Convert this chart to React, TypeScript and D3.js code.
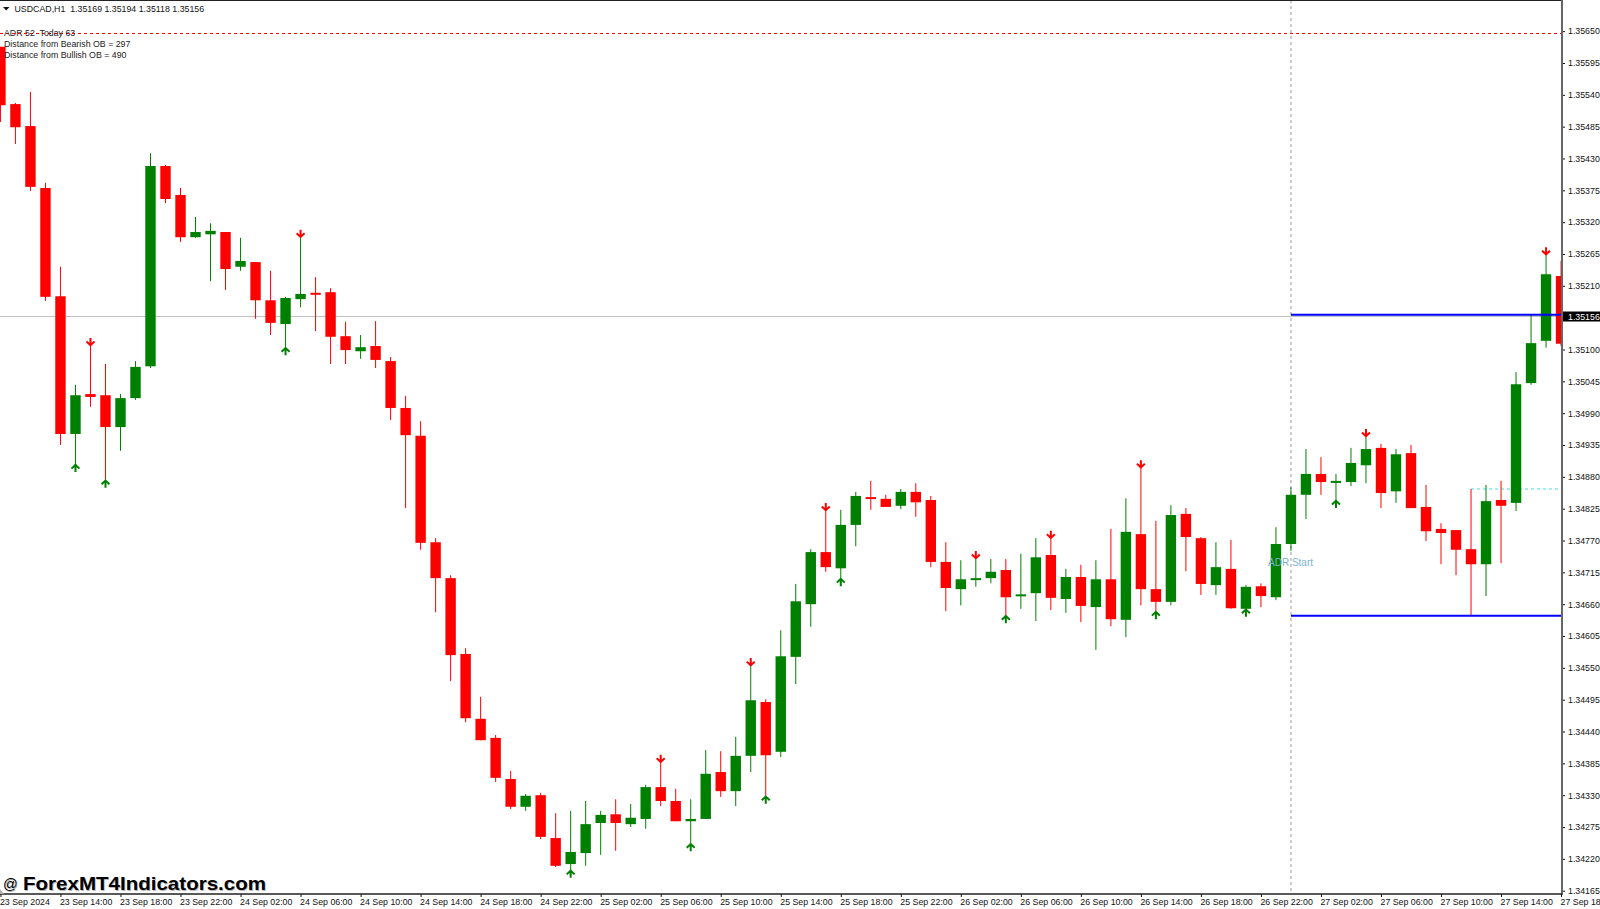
import * as d3 from "d3";
import { useEffect, useRef } from "react";

const opens = [
  1.35623, 1.35524, 1.35486, 1.35379, 1.35192, 1.34954, 1.35023, 1.35021, 1.34966, 1.35016,
  1.35071, 1.35417, 1.35367, 1.35294, 1.35299, 1.35303, 1.35243, 1.35251, 1.35185, 1.35144,
  1.35187, 1.35198, 1.35199, 1.35123, 1.35097, 1.35106, 1.3508, 1.34999, 1.34951, 1.34767,
  1.34705, 1.34574, 1.34462, 1.34429, 1.34358, 1.3431, 1.3433, 1.34256, 1.34211, 1.3423,
  1.34282, 1.34297, 1.3428, 1.34289, 1.34344, 1.3432, 1.34285, 1.34289, 1.3437, 1.34337,
  1.34398, 1.34491, 1.34405, 1.34569, 1.3466, 1.3475, 1.34722, 1.34797, 1.34845, 1.34842,
  1.3483, 1.34854, 1.3484, 1.34733, 1.34686, 1.34702, 1.34705, 1.34719, 1.34674, 1.34679,
  1.34745, 1.34669, 1.34707, 1.34655, 1.34703, 1.34633, 1.34781, 1.34686, 1.34664, 1.34816,
  1.34774, 1.34693, 1.34721, 1.34652, 1.34691, 1.34672, 1.34764, 1.34849, 1.34885, 1.34871,
  1.34871, 1.349, 1.3493, 1.34855, 1.34921, 1.34828, 1.3479, 1.34788, 1.34755, 1.34729,
  1.3484, 1.34835, 1.35042, 1.35115, 1.35227,
];
const highs = [
  1.35623, 1.35526, 1.35545, 1.35388, 1.35243, 1.35039, 1.35106, 1.35075, 1.35023, 1.3508,
  1.35439, 1.35419, 1.35379, 1.35329, 1.35318, 1.35303, 1.35293, 1.35251, 1.35236, 1.35191,
  1.35293, 1.35225, 1.35206, 1.35148, 1.35125, 1.35149, 1.35087, 1.3502, 1.34976, 1.34774,
  1.3471, 1.34584, 1.345, 1.34434, 1.34372, 1.34332, 1.34334, 1.34299, 1.34303, 1.3432,
  1.34303, 1.34323, 1.34315, 1.34348, 1.34386, 1.34341, 1.34323, 1.34408, 1.34406, 1.34431,
  1.34553, 1.34496, 1.34615, 1.34695, 1.34755, 1.34821, 1.34823, 1.34854, 1.34873, 1.34849,
  1.34859, 1.34869, 1.34847, 1.34767, 1.34736, 1.34738, 1.34738, 1.34738, 1.34747, 1.34774,
  1.34773, 1.34721, 1.34728, 1.34736, 1.3479, 1.34843, 1.34895, 1.34804, 1.34831, 1.34826,
  1.34776, 1.34767, 1.34771, 1.34693, 1.34696, 1.34793, 1.34862, 1.34928, 1.34914, 1.34885,
  1.3493, 1.34949, 1.34937, 1.34928, 1.34935, 1.34866, 1.348, 1.34788, 1.34859, 1.34866,
  1.34873, 1.35061, 1.3516, 1.35263, 1.35253,
];
const lows = [
  1.35493, 1.35455, 1.35374, 1.35184, 1.34935, 1.34902, 1.35001, 1.34875, 1.34925, 1.35013,
  1.35068, 1.35353, 1.35286, 1.35293, 1.35218, 1.35203, 1.35236, 1.35153, 1.35125, 1.35104,
  1.35173, 1.35132, 1.35075, 1.35075, 1.35084, 1.35068, 1.34978, 1.34826, 1.34754, 1.34646,
  1.34527, 1.34456, 1.34425, 1.34353, 1.34306, 1.34303, 1.34254, 1.34206, 1.34201, 1.34208,
  1.34227, 1.34234, 1.34275, 1.34272, 1.34311, 1.34285, 1.34247, 1.34289, 1.34327, 1.34311,
  1.3437, 1.34329, 1.34396, 1.34522, 1.34621, 1.34716, 1.34705, 1.3476, 1.34823, 1.34828,
  1.34824, 1.34811, 1.34724, 1.34648, 1.34658, 1.3469, 1.34696, 1.34641, 1.34652, 1.34631,
  1.3465, 1.34645, 1.34629, 1.34581, 1.34622, 1.34603, 1.34658, 1.34648, 1.34658, 1.34717,
  1.34676, 1.34676, 1.34652, 1.34652, 1.34655, 1.34667, 1.34752, 1.34807, 1.34849, 1.3484,
  1.34864, 1.34869, 1.34826, 1.34835, 1.34826, 1.34769, 1.34729, 1.3471, 1.3464, 1.34674,
  1.34731, 1.34821, 1.35039, 1.35103, 1.35106,
];
const closes = [
  1.35522, 1.35484, 1.35381, 1.35191, 1.34954, 1.35021, 1.35018, 1.34966, 1.35016, 1.3507,
  1.35417, 1.3536, 1.35294, 1.35303, 1.35305, 1.35239, 1.35253, 1.35185, 1.35146, 1.35189,
  1.35196, 1.35195, 1.35122, 1.35099, 1.35104, 1.35082, 1.34999, 1.34952, 1.34766, 1.34705,
  1.34572, 1.34463, 1.34425, 1.3436, 1.3431, 1.34329, 1.34258, 1.34208, 1.34232, 1.3428,
  1.34296, 1.34282, 1.34291, 1.34344, 1.3432, 1.34285, 1.34289, 1.34367, 1.34337, 1.34398,
  1.34494, 1.34399, 1.3457, 1.34665, 1.3475, 1.34724, 1.34797, 1.34847, 1.34842, 1.34828,
  1.34854, 1.34836, 1.34733, 1.34688, 1.34703, 1.34705, 1.34716, 1.34672, 1.34677, 1.34741,
  1.34671, 1.34707, 1.34657, 1.34703, 1.34634, 1.34785, 1.34686, 1.34664, 1.34814, 1.34776,
  1.34695, 1.34724, 1.34653, 1.3469, 1.34674, 1.34764, 1.34849, 1.34885, 1.34871, 1.34873,
  1.34904, 1.34928, 1.34852, 1.34919, 1.34826, 1.34786, 1.34783, 1.34754, 1.34729, 1.34838,
  1.3483, 1.3504, 1.35111, 1.3523, 1.3511,
];

// bars carrying the indicator arrows
const upArrows = [5, 7, 19, 38, 46, 51, 56, 67, 77, 83, 89];
const downArrows = [6, 20, 44, 50, 55, 65, 70, 76, 91, 103];

const priceTicks = [
  1.3565, 1.35595, 1.3554, 1.35485, 1.3543, 1.35375, 1.3532, 1.35265, 1.3521, 1.351, 1.35045,
  1.3499, 1.34935, 1.3488, 1.34825, 1.3477, 1.34715, 1.3466, 1.34605, 1.3455, 1.34495, 1.3444,
  1.34385, 1.3433, 1.34275, 1.3422, 1.34165,
];
const timeLabels = [
  "23 Sep 2024", "23 Sep 14:00", "23 Sep 18:00", "23 Sep 22:00", "24 Sep 02:00", "24 Sep 06:00",
  "24 Sep 10:00", "24 Sep 14:00", "24 Sep 18:00", "24 Sep 22:00", "25 Sep 02:00", "25 Sep 06:00",
  "25 Sep 10:00", "25 Sep 14:00", "25 Sep 18:00", "25 Sep 22:00", "26 Sep 02:00", "26 Sep 06:00",
  "26 Sep 10:00", "26 Sep 14:00", "26 Sep 18:00", "26 Sep 22:00", "27 Sep 02:00", "27 Sep 06:00",
  "27 Sep 10:00", "27 Sep 14:00", "27 Sep 18:00",
];
const infoLines = ["ADR 52  Today 63", "Distance from Bearish OB = 297", "Distance from Bullish OB = 490"];

const bidPrice = 1.35156;
const bidLine = 1.35157;
const adrHigh = 1.3516;
const adrLow = 1.3464;
const bearishLevel = 1.35646;
const bullishLevel = 1.34859;
const adrStartBar = 86;

const RED = "#ff0000";
const GREEN = "#008000";
const LABEL_FONT = "'Liberation Sans', Arial, sans-serif";
const LABEL_SIZE = 8.8;

export default function App() {
  const svgRef = useRef<SVGSVGElement>(null);

  useEffect(() => {
    const width = 1600;
    const height = 909;
    const plotRight = 1562;
    const plotBottom = 894;

    const x = d3.scaleLinear().domain([0, 104]).range([0.44, 1561.06]);
    const y = d3.scaleLinear().domain([1.34165, 1.35265]).range([890.7, 254]);

    const svg = d3.select(svgRef.current);
    svg.selectAll("*").remove();
    svg.attr("width", width).attr("height", height);

    svg
      .append("defs")
      .append("clipPath")
      .attr("id", "plot")
      .append("rect")
      .attr("x", 0)
      .attr("y", 1)
      .attr("width", plotRight - 1)
      .attr("height", plotBottom - 1);

    // bid line sits under everything
    svg
      .append("line")
      .attr("x1", 0)
      .attr("x2", plotRight)
      .attr("y1", y(bidLine))
      .attr("y2", y(bidLine))
      .attr("stroke", "#c0c0c0")
      .attr("shape-rendering", "crispEdges");

    const plot = svg.append("g").attr("clip-path", "url(#plot)");

    plot
      .append("line")
      .attr("x1", x(adrStartBar))
      .attr("x2", x(adrStartBar))
      .attr("y1", 0)
      .attr("y2", plotBottom)
      .attr("stroke", "#b8b8b8")
      .attr("stroke-width", 1.4)
      .attr("stroke-dasharray", "3,3");

    plot
      .append("line")
      .attr("x1", 0)
      .attr("x2", plotRight)
      .attr("y1", y(bearishLevel))
      .attr("y2", y(bearishLevel))
      .attr("stroke", RED)
      .attr("stroke-dasharray", "3,3");

    plot
      .append("line")
      .attr("x1", x(98))
      .attr("x2", plotRight)
      .attr("y1", y(bullishLevel))
      .attr("y2", y(bullishLevel))
      .attr("stroke", "#40e0e0")
      .attr("stroke-dasharray", "3,3");

    const indices = d3.range(opens.length);
    const color = (i: number) => (closes[i] >= opens[i] ? GREEN : RED);

    plot
      .selectAll(".wick")
      .data(indices)
      .enter()
      .append("line")
      .attr("class", "wick")
      .attr("x1", (i) => x(i))
      .attr("x2", (i) => x(i))
      .attr("y1", (i) => y(highs[i]))
      .attr("y2", (i) => y(lows[i]))
      .attr("stroke", color);

    plot
      .selectAll(".body")
      .data(indices)
      .enter()
      .append("rect")
      .attr("class", "body")
      .attr("x", (i) => x(i) - 5.2)
      .attr("width", 10.4)
      .attr("y", (i) => y(Math.max(opens[i], closes[i])))
      .attr("height", (i) => Math.max(2, Math.abs(y(opens[i]) - y(closes[i]))))
      .attr("fill", color);

    [adrHigh, adrLow].forEach((level) => {
      plot
        .append("line")
        .attr("x1", x(adrStartBar))
        .attr("x2", plotRight)
        .attr("y1", y(level))
        .attr("y2", y(level))
        .attr("stroke", "#0000ff")
        .attr("stroke-width", 2);
    });

    // indicator arrows: tip touches the wick end
    const arrow = (dir: number) => {
      const p = d3.path();
      p.moveTo(0, 0);
      p.lineTo(0, dir * 8);
      p.moveTo(-4, dir * 4.5);
      p.lineTo(0, dir * 0.8);
      p.lineTo(4, dir * 4.5);
      return p.toString();
    };

    plot
      .selectAll(".up")
      .data(upArrows)
      .enter()
      .append("path")
      .attr("class", "up")
      .attr("d", arrow(1))
      .attr("transform", (i) => `translate(${x(i)},${y(lows[i])})`)
      .attr("fill", "none")
      .attr("stroke", GREEN)
      .attr("stroke-width", 2);

    plot
      .selectAll(".down")
      .data(downArrows)
      .enter()
      .append("path")
      .attr("class", "down")
      .attr("d", arrow(-1))
      .attr("transform", (i) => `translate(${x(i)},${y(highs[i])})`)
      .attr("fill", "none")
      .attr("stroke", RED)
      .attr("stroke-width", 2);

    // frame
    svg
      .append("line")
      .attr("x1", 0)
      .attr("x2", plotRight)
      .attr("y1", 0.5)
      .attr("y2", 0.5)
      .attr("stroke", "#222222");

    // price axis
    const yAxis = svg
      .append("g")
      .attr("transform", `translate(${plotRight},0)`)
      .call(
        d3
          .axisRight(y)
          .tickValues(priceTicks)
          .tickSize(3)
          .tickPadding(3)
          .tickFormat((d) => (+d).toFixed(5)),
      );
    yAxis.select(".domain").remove();
    yAxis.selectAll("line").attr("stroke", "#111111");
    yAxis
      .selectAll("text")
      .attr("font-family", LABEL_FONT)
      .attr("font-size", LABEL_SIZE)
      .attr("fill", "#111111");
    svg
      .append("line")
      .attr("x1", plotRight)
      .attr("x2", plotRight)
      .attr("y1", 0)
      .attr("y2", plotBottom + 1)
      .attr("stroke", "#666666")
      .attr("stroke-width", 2);

    // current price flag
    svg
      .append("rect")
      .attr("x", plotRight + 1)
      .attr("y", y(bidLine) - 5)
      .attr("width", width - plotRight)
      .attr("height", 10)
      .attr("fill", "#000000");
    svg
      .append("text")
      .attr("x", plotRight + 6)
      .attr("y", y(bidLine) + 3.2)
      .attr("font-family", LABEL_FONT)
      .attr("font-size", LABEL_SIZE)
      .attr("fill", "#ffffff")
      .text(bidPrice.toFixed(5));

    // time axis
    const xAxis = svg
      .append("g")
      .attr("transform", `translate(0,${plotBottom})`)
      .call(
        d3
          .axisBottom(x)
          .tickValues(timeLabels.map((_, i) => i * 4))
          .tickSize(3)
          .tickPadding(2)
          .tickFormat((d) => timeLabels[+d / 4]),
      );
    xAxis.select(".domain").remove();
    xAxis.selectAll("line").attr("stroke", "#111111");
    xAxis
      .selectAll("text")
      .attr("font-family", LABEL_FONT)
      .attr("font-size", LABEL_SIZE)
      .attr("fill", "#111111")
      .attr("text-anchor", "start")
      .attr("dx", -1);
    svg
      .append("line")
      .attr("x1", 0)
      .attr("x2", plotRight)
      .attr("y1", plotBottom)
      .attr("y2", plotBottom)
      .attr("stroke", "#222222")
      .attr("stroke-width", 1.4);

    // header
    svg
      .append("path")
      .attr("d", "M3,7 L9.5,7 L6.2,10.5 Z")
      .attr("fill", "#111111");
    svg
      .append("text")
      .attr("x", 14.5)
      .attr("y", 11.5)
      .attr("font-family", LABEL_FONT)
      .attr("font-size", LABEL_SIZE)
      .attr("fill", "#111111")
      .attr("xml:space", "preserve")
      .text("USDCAD,H1  1.35169 1.35194 1.35118 1.35156");

    svg
      .selectAll(".info")
      .data(infoLines)
      .enter()
      .append("text")
      .attr("class", "info")
      .attr("x", 4)
      .attr("y", (_, i) => 35.5 + i * 11)
      .attr("font-family", LABEL_FONT)
      .attr("font-size", LABEL_SIZE)
      .attr("fill", "#222222")
      .attr("xml:space", "preserve")
      .text((d) => d);

    svg
      .append("text")
      .attr("x", 1268)
      .attr("y", 566)
      .attr("font-family", LABEL_FONT)
      .attr("font-size", 10)
      .attr("fill", "#7fb2cf")
      .text("ADR Start");

    // watermark
    svg
      .append("path")
      .attr("d", "M0,889 L4,894 L0,894 Z")
      .attr("fill", "#b0b0b0");
    [
      { dx: 0.8, dy: 0.8, fill: "#b5b5b5" },
      { dx: 0, dy: 0, fill: "#000000" },
    ].forEach((s) => {
      svg
        .append("text")
        .attr("x", 3 + s.dx)
        .attr("y", 889 + s.dy)
        .attr("font-family", LABEL_FONT)
        .attr("font-size", 14.5)
        .attr("fill", s.fill)
        .text("@");
      svg
        .append("text")
        .attr("x", 23 + s.dx)
        .attr("y", 890 + s.dy)
        .attr("font-family", LABEL_FONT)
        .attr("font-weight", "bold")
        .attr("font-size", 19)
        .attr("textLength", 243)
        .attr("lengthAdjust", "spacingAndGlyphs")
        .attr("fill", s.fill)
        .text("ForexMT4Indicators.com");
    });
  }, []);

  return (
    <svg
      ref={svgRef}
      style={{ position: "absolute", left: 0, top: 0, display: "block", background: "#ffffff" }}
    ></svg>
  );
}
